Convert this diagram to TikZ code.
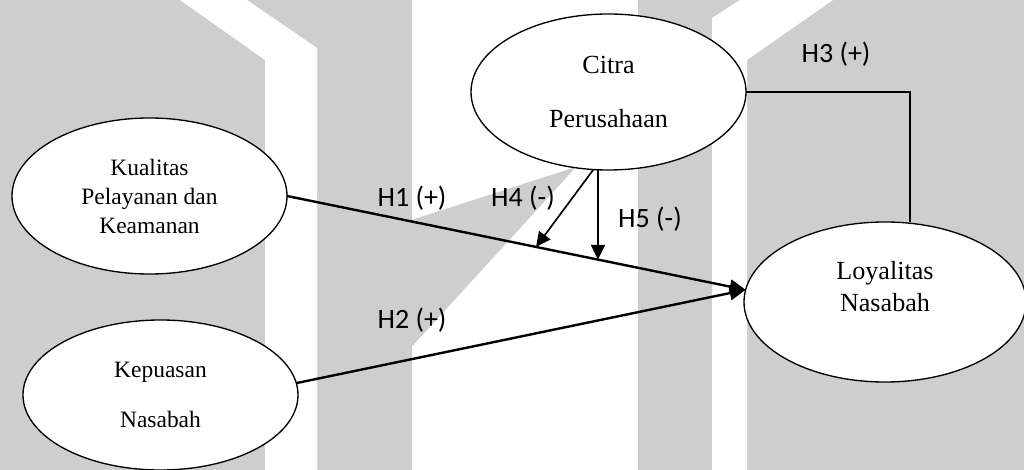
\documentclass[tikz,border=0pt]{standalone}
\usepackage{fontspec}
\setmainfont{Liberation Serif}
\newfontfamily\hypfont{Carlito}
\usetikzlibrary{shapes.geometric,arrows.meta,calc}
\definecolor{wmgray}{RGB}{206,206,206}
\begin{document}
\begin{tikzpicture}[x=0.75pt,y=-0.75pt,
  construct/.style={ellipse,draw=black,line width=1pt,fill=white,
    inner sep=0pt,outer sep=0pt,align=center},
  effect/.style={line width=1.8pt,-{Triangle[length=12pt,width=10.5pt]}},
  moderate/.style={line width=1.25pt,-{Triangle[length=11pt,width=10.5pt]}},
  hyp/.style={font=\hypfont\fontsize{21}{25}\selectfont,inner sep=0pt}]
\useasboundingbox (0,0) rectangle (1024,470);

% watermark backdrop
\fill[wmgray] (0,0) rectangle (1024,470);
\fill[white] (180,0) -- (247,0) -- (317,48) -- (317,470) -- (265,470) -- (265,60) -- cycle;
\fill[white] (412,0) rectangle (638,470);
\fill[wmgray] (405,222) -- (576,167) -- (406,353) -- cycle;
\fill[white] (712,470) -- (712,18) -- (740,0) -- (833,0) -- (747,60) -- (747,470) -- cycle;

% constructs
\node[construct,minimum width=206.25pt,minimum height=117pt,
  font=\fontsize{17.6}{21.75}\selectfont] (kq) at (149.5,196)
  {Kualitas\\Pelayanan dan\\Keamanan};
\node[construct,minimum width=206.25pt,minimum height=112.5pt,
  font=\fontsize{17.6}{37.5}\selectfont] (kep) at (160.5,395)
  {Kepuasan\\Nasabah};
\node[construct,minimum width=206.25pt,minimum height=117pt,
  font=\fontsize{19.6}{40.5}\selectfont] (citra) at (608.5,92)
  {Citra\\Perusahaan};
\node[construct,minimum width=211.5pt,minimum height=120pt,
  font=\fontsize{19.6}{24}\selectfont] (loy) at (885,302)
  {Loyalitas\\Nasabah\\\mbox{}};

% paths
\coordinate (tip) at (loy.175);
\draw[effect] (kq.east) -- (tip);
\draw[effect] (kep.5) -- (tip);
\coordinate (h4e) at ($(kq.east)!0.543!(tip)$);
\coordinate (h5e) at ($(kq.east)!0.678!(tip)$);
\draw[moderate] (citra.259) -- (h4e);
\draw[moderate] (h5e |- citra.south) -- (h5e);
\coordinate (h3c) at ($(citra.east)+(164,0)$);
\draw[line width=0.8pt] (citra.east) -- (h3c) -- (h3c |- loy.north);

% hypothesis labels
\node[hyp] (h1) at (412,198.5) {H1 (+)};
\node[hyp] (h2) at (412,320.5) {H2 (+)};
\node[hyp] (h3) at (836,54) {H3 (+)};
\node[hyp] (h4) at (523,198) {H4 (-)};
\node[hyp] (h5) at (650,219) {H5 (-)};
\end{tikzpicture}
\end{document}
